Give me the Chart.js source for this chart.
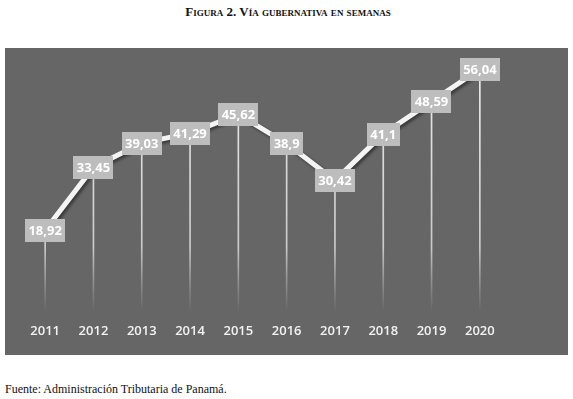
<!DOCTYPE html>
<html>
<head>
<meta charset="utf-8">
<script src="https://cdn.jsdelivr.net/npm/chart.js@4/dist/chart.umd.min.js"></script>
<style>
  body { margin: 0; background: #fff; width: 573px; height: 399px; position: relative; overflow: hidden; }
  #title { position: absolute; top: 4px; left: 0; width: 576px; text-align: center;
           font-family: "Liberation Serif", serif; font-weight: bold; font-variant: small-caps;
           font-size: 13px; color: #111; }
  #panel { position: absolute; left: 5px; top: 48px; width: 563px; height: 307px; background: #666666; }
  #source { position: absolute; left: 5px; top: 382px; font-family: "Liberation Serif", serif;
            font-size: 12px; color: #111; }
</style>
</head>
<body>
<div id="title">Figura 2. Vía gubernativa en semanas</div>
<div id="panel"><canvas id="chart" width="563" height="307"></canvas></div>
<div id="source">Fuente: Administración Tributaria de Panamá.</div>
<script>
const years = ['2011', '2012', '2013', '2014', '2015', '2016', '2017', '2018', '2019', '2020'];
const weeks = [18.92, 33.45, 39.03, 41.29, 45.62, 38.9, 30.42, 41.1, 48.59, 56.04];
const weekLabels = ['18,92', '33,45', '39,03', '41,29', '45,62', '38,9', '30,42', '41,1', '48,59', '56,04'];

// sombra de la línea
const lineShadow = {
    id: 'lineShadow',
    beforeDatasetDraw(chart, args) {
        if (args.index !== 1) return;
        const ctx = chart.ctx;
        ctx.save();
        ctx.shadowColor = 'rgba(0,0,0,0.45)';
        ctx.shadowBlur = 3;
        ctx.shadowOffsetX = 2;
        ctx.shadowOffsetY = 2;
    },
    afterDatasetDraw(chart, args) {
        if (args.index !== 1) return;
        chart.ctx.restore();
    }
};

// etiquetas con caja gris
const boxLabels = {
    id: 'boxLabels',
    afterDatasetsDraw(chart) {
        const ctx = chart.ctx;
        const meta = chart.getDatasetMeta(1);
        ctx.save();
        ctx.font = 'bold 13px "Open Sans", sans-serif';
        ctx.textAlign = 'center';
        ctx.textBaseline = 'middle';
        meta.data.forEach((pt, i) => {
            const txt = weekLabels[i];
            const w = ctx.measureText(txt).width + 7;
            const h = 23;
            ctx.fillStyle = '#bdbdbd';
            ctx.fillRect(Math.round(pt.x - w / 2), Math.round(pt.y - h / 2), Math.round(w), h);
            ctx.fillStyle = '#ffffff';
            ctx.fillText(txt, pt.x, pt.y + 1);
        });
        ctx.restore();
    }
};

function dropGradient(context) {
    const area = context.chart.chartArea;
    if (!area) return '#dddddd';
    const g = context.chart.ctx.createLinearGradient(0, area.top, 0, area.bottom);
    g.addColorStop(0, 'rgba(240,240,240,1)');
    g.addColorStop(0.75, 'rgba(220,220,220,0.85)');
    g.addColorStop(1, 'rgba(200,200,200,0)');
    return g;
}

new Chart(document.getElementById('chart'), {
    type: 'bar',
    data: {
        labels: years,
        datasets: [{
            type: 'bar',
            data: weeks,
            backgroundColor: dropGradient,
            barThickness: 1,
            order: 2
        }, {
            type: 'line',
            data: weeks,
            borderColor: '#f4f4f4',
            borderWidth: 5,
            pointRadius: 0,
            tension: 0,
            order: 1
        }]
    },
    plugins: [lineShadow, boxLabels],
    options: {
        responsive: false,
        animation: false,
        layout: { padding: { left: 16, right: 64, top: 4, bottom: 5 } },
        plugins: { legend: { display: false }, tooltip: { enabled: false } },
        scales: {
            x: {
                offset: true,
                grid: { display: false, drawTicks: false },
                border: { display: false },
                ticks: { color: '#f2f2f2', padding: 11, font: { family: '"Open Sans", sans-serif', size: 13, weight: '600' } }
            },
            y: {
                display: false,
                min: 0,
                max: 60
            }
        }
    }
});
</script>
</body>
</html>
